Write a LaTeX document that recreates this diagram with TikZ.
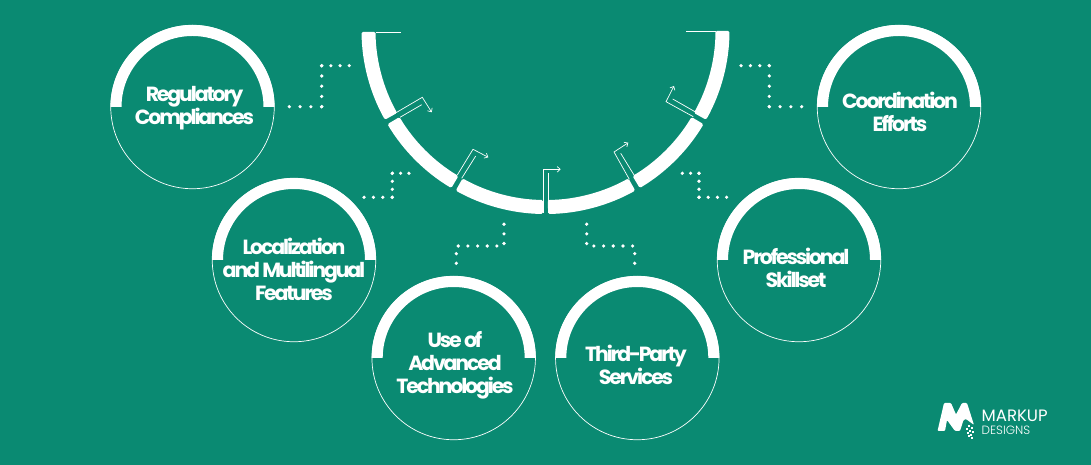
\documentclass[tikz,border=0pt]{standalone}
\usepackage{fontspec}
\setmainfont{Poppins}[LetterSpace=-10.5]
\newfontfamily\logofont{Poppins}
\newfontfamily\logolight{Poppins Light}
\usetikzlibrary{arrows.meta}
\definecolor{bggreen}{HTML}{0A8A72}
\tikzset{
  ring/.style={circle, draw=white, line width=0.7pt, minimum size=163.5pt, inner sep=0pt},
  label/.style={text=white, align=center, font=\fontsize{20.5}{23}\selectfont\bfseries},
  thinline/.style={draw=white, line width=0.7pt},
  arrowline/.style={thinline, -{Straight Barb[length=3pt,width=5.5pt]}},
  dotline/.style={white, line width=3.6pt, line cap=round, dash pattern=on 0pt off #1pt},
}
\begin{document}
\begin{tikzpicture}[x=1pt, y=1pt]
\useasboundingbox (0,0) rectangle (1091,465);
\fill[bggreen] (0,0) rectangle (1091,465);

% Circulos
\node[ring] (Reg) at (192.5,358) {};
\node[ring] (Loc) at (294,205) {};
\node[ring] (Use) at (453.7,107) {};
\node[ring] (Third) at (637.3,107) {};
\node[ring] (Prof) at (799,205) {};
\node[ring] (Coord) at (899,358) {};

\foreach \name in {Reg,Loc,Use,Third,Prof,Coord}
  \fill[white] (\name.center) ++(180:82) arc[start angle=180, end angle=0, radius=82]
    -- ++(-11,0) arc[start angle=0, end angle=180, radius=71] -- cycle;

% Textos
\node[label] (RegText) at (194.5,356.5) {Regulatory\\Compliances};
\node[label] (LocText) at (294,196) {Localization\\and Multilingual\\Features};
\node[label] (UseText) at (455,99.5) {Use of\\Advanced\\Technologies};
\node[label] (ThirdText) at (636,100) {Third-Party\\Services};
\node[label] (ProfText) at (796,197) {Professional\\Skillset};
\node[label] (CoordText) at (900,353) {Coordination\\Efforts};

% Arco central
\coordinate (Hub) at (545.5,435);
\foreach \from/\to in {180.6/209.2, 210.8/239.2, 240.8/269.2, 270.8/299.2, 300.8/329.2, 330.8/359.7}
  \fill[white, rounded corners=1.5pt] (Hub) ++(\from:184) arc[start angle=\from, end angle=\to, radius=184]
    -- ++(\to:-14) arc[start angle=\to, end angle=\from, radius=170] -- cycle;

% Lineas superiores
\coordinate (TopL1) at (375.7,433);
\coordinate (TopL2) at (400.7,433);
\coordinate (TopR1) at (716,434);
\coordinate (TopR2) at (686,434);
\draw[thinline] (TopL1) -- (TopL2);
\draw[thinline] (TopR1) -- (TopR2);

% Flechas
\coordinate (A1a) at (395,351.7);
\coordinate (A1b) at (422.3,367.7);
\coordinate (A1c) at (431.7,352.7);
\coordinate (A1d) at (400,347.7);
\coordinate (A1e) at (421.7,360.3);
\coordinate (A2a) at (457.3,290);
\coordinate (A2b) at (473,315.7);
\coordinate (A2c) at (488.3,307.7);
\coordinate (A2d) at (461.7,286.7);
\coordinate (A2e) at (475.7,309);
\coordinate (A3a) at (543.3,252);
\coordinate (A3b) at (543.3,295.7);
\coordinate (A3c) at (560.7,295.7);
\coordinate (A3d) at (548.3,252);
\coordinate (A3e) at (548.3,292.3);
\coordinate (A4a) at (629.3,285.7);
\coordinate (A4b) at (614,313);
\coordinate (A4c) at (628.3,322.3);
\coordinate (A4d) at (634,290);
\coordinate (A4e) at (620.7,311.7);
\coordinate (A5a) at (693.3,348.3);
\coordinate (A5b) at (666,363.3);
\coordinate (A5c) at (674,379);
\coordinate (A5d) at (696.7,352.3);
\coordinate (A5e) at (672.7,366);

\foreach \n in {A1,A2,A3,A4,A5}
  \draw[arrowline] (\n a) -- (\n b) -- (\n c);
\foreach \n in {A1,A2,A3,A4,A5}
  \draw[thinline] (\n d) -- (\n e);

% Puntos
\coordinate (D1a) at (289.3,358.3);
\coordinate (D1b) at (321.7,358.3);
\coordinate (D1c) at (321.7,399.3);
\coordinate (D1d) at (349.3,399.3);
\coordinate (D2a) at (364,267.7);
\coordinate (D2b) at (392.3,267.7);
\coordinate (D2c) at (392.3,291.7);
\coordinate (D2d) at (409,291.7);
\coordinate (D3a) at (456.3,201.7);
\coordinate (D3b) at (456.3,219);
\coordinate (D3c) at (504,219);
\coordinate (D3d) at (504,241);
\coordinate (D4a) at (634.7,201.7);
\coordinate (D4b) at (634.7,219);
\coordinate (D4c) at (586.7,219);
\coordinate (D4d) at (586.7,241);
\coordinate (D5a) at (741,399.3);
\coordinate (D5b) at (769.3,399.3);
\coordinate (D5c) at (769.3,358.3);
\coordinate (D5d) at (801.7,358.3);
\coordinate (D6a) at (682.3,291.7);
\coordinate (D6b) at (699,291.7);
\coordinate (D6c) at (699,267.7);
\coordinate (D6d) at (726.7,267.7);

\draw[dotline=10.78] (D1a) -- (D1b);
\draw[dotline=10.23] (D1b) -- (D1c);
\draw[dotline=9.18] (D1c) -- (D1d);
\draw[dotline=9.41] (D2a) -- (D2b);
\draw[dotline=7.98] (D2b) -- (D2c);
\draw[dotline=8.33] (D2c) -- (D2d);
\draw[dotline=9.64] (D3a) -- (D3b) -- (D3c) -- (D3d);
\draw[dotline=9.68] (D4a) -- (D4b) -- (D4c) -- (D4d);
\draw[dotline=9.41] (D5a) -- (D5b);
\draw[dotline=10.23] (D5b) -- (D5c);
\draw[dotline=10.78] (D5c) -- (D5d);
\draw[dotline=8.33] (D6a) -- (D6b);
\draw[dotline=7.98] (D6b) -- (D6c);
\draw[dotline=9.21] (D6c) -- (D6d);

% Logo
\fill[white, rounded corners=1pt] (937.5,34) -- (944,62) -- (951,62) -- (956,50.5) -- (962,62) -- (967,62)
  -- (974,40) -- (966,46) -- (963.5,45) -- (960,34) -- (955,34) -- (947,45) -- (945,34) -- cycle;
\foreach \px/\py in {968/38, 971/36, 966/35, 969/33, 972/32, 967/31, 970/29, 968/28, 971/26}
  \fill[white] (\px,\py) rectangle ++(1.6,1.6);
\node[text=white, anchor=west, inner sep=0pt, font=\logofont\fontsize{16.5}{18}\selectfont\mdseries] (LogoTop) at (981.5,49) {MARKUP};
\node[text=white, anchor=west, inner sep=0pt, font=\logolight\fontsize{12}{13}\selectfont] (LogoBottom) at (981.5,35) {DESIGNS};

\end{tikzpicture}
\end{document}
